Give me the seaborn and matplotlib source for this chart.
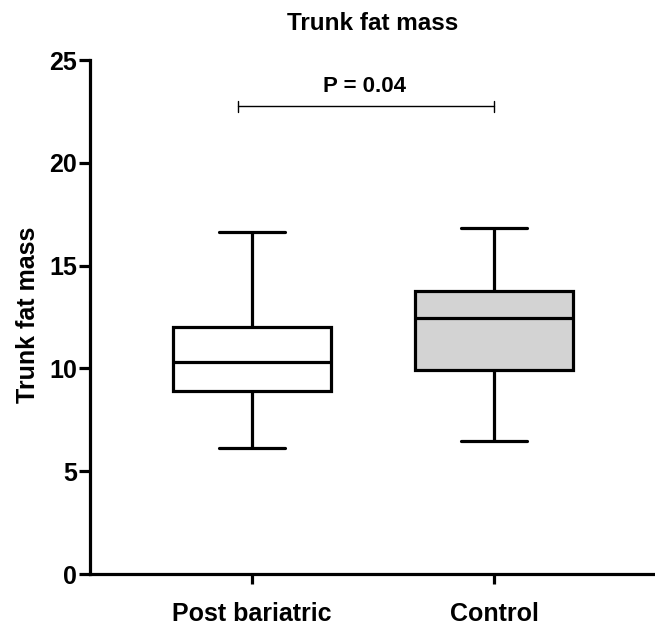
import matplotlib
matplotlib.use("Agg")
import matplotlib.pyplot as plt
import seaborn as sns
import pandas as pd

# Data (five-number summaries: min, Q1, median, Q3, max)
groups = ["Post bariatric", "Control"]
post_bariatric = [6.15, 8.92, 10.30, 11.99, 16.63]
control = [6.48, 9.93, 12.44, 13.75, 16.81]
fill_colors = {"Post bariatric": "#ffffff", "Control": "#d3d3d3"}
y_ticks = [0, 5, 10, 15, 20, 25]
p_label = "P = 0.04"
bracket_y = 22.76

df = pd.DataFrame({
    "group": [groups[0]] * len(post_bariatric) + [groups[1]] * len(control),
    "value": post_bariatric + control,
})

sns.set_style("white")
plt.rcParams["font.family"] = ["Liberation Sans", "DejaVu Sans"]
plt.rcParams["font.weight"] = "bold"
plt.rcParams["text.color"] = "black"
plt.rcParams["axes.labelcolor"] = "black"
plt.rcParams["xtick.color"] = "black"
plt.rcParams["ytick.color"] = "black"

W, H = 655, 629
fig = plt.figure(figsize=(W / 100, H / 100), dpi=100)
ax = fig.add_axes([90 / W, 55 / H, 565 / W, 514 / H])

lw = 2.3
sns.boxplot(data=df, x="group", y="value", hue="group", order=groups,
            hue_order=groups, palette=fill_colors, legend=False,
            whis=(0, 100), width=0.655, linecolor="black", linewidth=lw,
            fliersize=0, capwidths=0.275, ax=ax)

ax.set_ylim(0, 25)
ax.set_xlim(-0.669, 1.665)
ax.set_yticks(y_ticks)
ax.set_yticklabels([str(t) for t in y_ticks], fontsize=18, fontweight="bold",
                   color="black")
ax.set_xticks(range(len(groups)))
ax.set_xticklabels(groups, fontsize=18, fontweight="bold", color="black")
ax.set_xlabel("")
ax.set_ylabel("")

for s in ["top", "right"]:
    ax.spines[s].set_visible(False)
for s in ["left", "bottom"]:
    ax.spines[s].set_linewidth(lw)
    ax.spines[s].set_color("black")
ax.spines["left"].set_bounds(0, 25)

ax.tick_params(axis="y", left=True, length=8, width=lw, pad=1.5, colors="black")
ax.tick_params(axis="x", bottom=True, length=7, width=lw, pad=13, colors="black")

# Significance bracket
bx0, bx1 = -0.058, 1.0
ax.plot([bx0, bx1], [bracket_y, bracket_y], color="black", lw=1.0, clip_on=False)
for bx in (bx0, bx1):
    ax.plot([bx, bx], [bracket_y - 0.27, bracket_y + 0.27], color="black",
            lw=1.0, clip_on=False)
ax.text(0.467, 23.7, p_label, ha="center", va="center", fontsize=16,
        fontweight="bold", color="black")

fig.text(373 / W, 1 - 23 / H, "Trunk fat mass", ha="center", va="center",
         fontsize=17.5, fontweight="bold", color="black")
fig.text(28 / W, 1 - 315 / H, "Trunk fat mass", ha="center", va="center",
         rotation=90, fontsize=18, fontweight="bold", color="black")

fig.savefig("out.png", dpi=100)
